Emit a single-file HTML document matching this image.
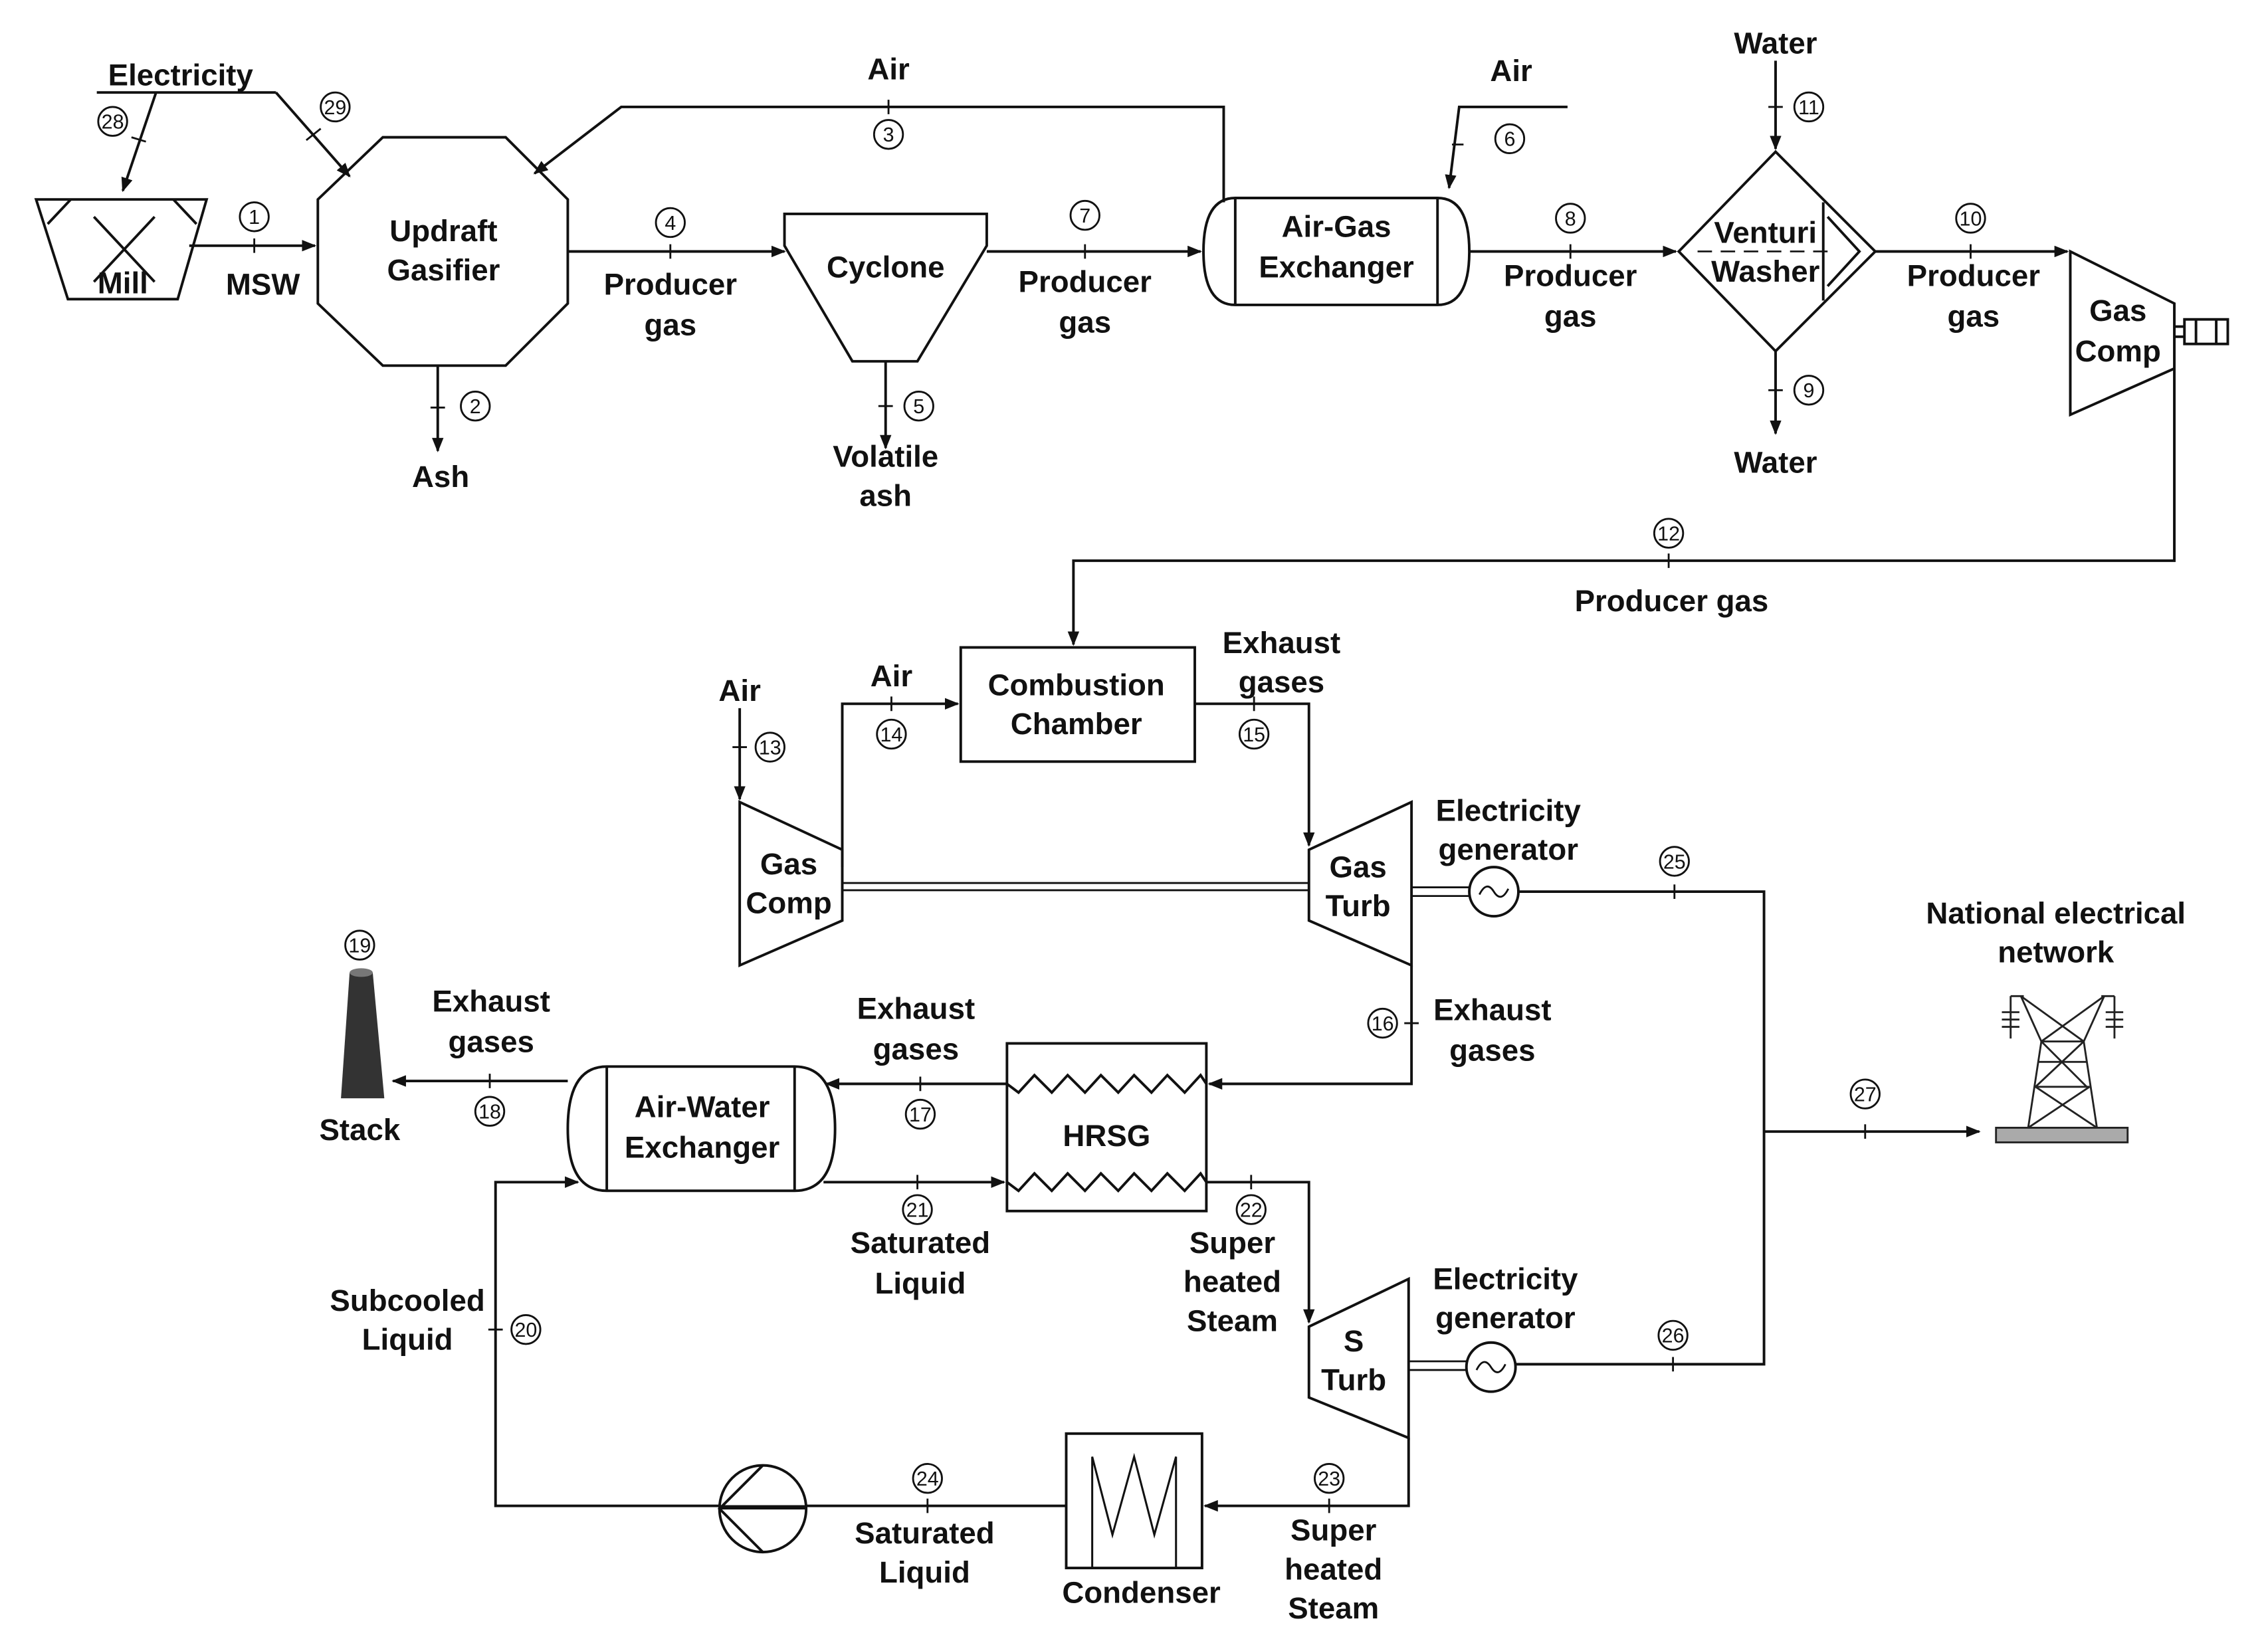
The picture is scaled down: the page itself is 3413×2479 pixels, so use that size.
<!DOCTYPE html>
<html><head><meta charset="utf-8"><style>
html,body{margin:0;padding:0;background:#fff;width:3413px;height:2479px;overflow:hidden}
svg{display:block}
text{font-family:"Liberation Sans",Arial,sans-serif;font-weight:bold;font-size:21px;fill:#111;text-anchor:middle}
.n{font-size:14px;font-weight:normal}
</style></head><body>
<svg width="3413" height="2479" viewBox="0 0 1551 1126" preserveAspectRatio="none" xmlns="http://www.w3.org/2000/svg">
<defs><marker id="a" markerWidth="10" markerHeight="8" refX="9" refY="4" orient="auto" markerUnits="userSpaceOnUse"><path d="M0,0 L10,4 L0,8z" fill="#111"/></marker>
<symbol id="c" viewBox="-11 -11 22 22"><circle r="10" fill="#fff" stroke="#111" stroke-width="1.3"/></symbol></defs>
<g transform="scale(0.988)">
<g fill="none" stroke="#111" stroke-width="1.8">
<!-- mill -->
<path d="M25,138 L143,138 L123,207 L47,207Z"/><path d="M49,138 L33,155 M120,138 L136,155"/>
<path d="M65,150 L107,195 M107,150 L65,195"/>
<path d="M67,64 L191,64"/><path d="M108,64 L85,132" marker-end="url(#a)"/>
<path d="M191,64 L242,122" marker-end="url(#a)"/>
<path d="M131,170 L218,170" marker-end="url(#a)"/>
<!-- gasifier -->
<path d="M265,95 L350,95 L393,138 L393,210 L350,253 L265,253 L220,210 L220,138Z"/>
<path d="M303,253 L303,312" marker-end="url(#a)"/>
<path d="M847,140 L847,74 L430,74 L370,120" marker-end="url(#a)"/>
<path d="M393,174 L543,174" marker-end="url(#a)"/>
<!-- cyclone -->
<path d="M543,148 L683,148 L683,170 L635,250 L590,250 L543,170Z"/>
<path d="M613,250 L613,310" marker-end="url(#a)"/>
<path d="M683,174 L831,174" marker-end="url(#a)"/>
<!-- air-gas -->
<path d="M855,137 L995,137 Q1017,137 1017,174 Q1017,211 995,211 L855,211 Q833,211 833,174 Q833,137 855,137Z"/>
<path d="M855,137 L855,211 M995,137 L995,211"/>
<path d="M1085,74 L1010,74 L1003,130" marker-end="url(#a)"/>
<path d="M1017,174 L1160,174" marker-end="url(#a)"/>
<!-- venturi -->
<path d="M1229,105 L1298,174 L1229,243 L1162,174Z"/>
<path d="M1262,140 L1262,208 M1265,150 L1287,174 L1265,198"/>
<path d="M1175,174 L1270,174" stroke-dasharray="10,6" stroke-width="1.2"/>
<path d="M1229,42 L1229,103" marker-end="url(#a)"/>
<path d="M1229,243 L1229,300" marker-end="url(#a)"/>
<path d="M1298,174 L1431,174" marker-end="url(#a)"/>
<!-- gas comp top -->
<path d="M1433,174 L1505,210 L1505,255 L1433,287Z"/>
<path d="M1505,226 L1512,226 M1505,233 L1512,233"/><rect x="1512" y="221" width="30" height="17"/><path d="M1520,221 L1520,238 M1534,221 L1534,238"/>
<path d="M1505,255 L1505,388 L743,388 L743,446" marker-end="url(#a)"/>
<!-- combustion -->
<rect x="665" y="448" width="162" height="79"/>
<path d="M583,600 L583,487 L663,487" marker-end="url(#a)"/>
<path d="M512,490 L512,553" marker-end="url(#a)"/>
<path d="M512,555 L583,588 L583,637 L512,668Z"/>
<path d="M827,487 L906,487 L906,585" marker-end="url(#a)"/>
<path d="M906,588 L977,555 L977,668 L906,637Z"/>
<path d="M583,611 L906,611 M583,616 L906,616" stroke-width="1.3"/>
<path d="M977,614 L1017,614 M977,620 L1017,620" stroke-width="1.3"/>
<circle cx="1034" cy="617" r="17"/><path d="M1024,619 Q1029,609 1034,617 Q1039,625 1044,615" stroke-width="1.3"/>
<path d="M1051,617 L1221,617 L1221,944 L1049,944"/>
<path d="M1221,783 L1370,783" marker-end="url(#a)"/>
<!-- exhaust 16 -->
<path d="M977,668 L977,750 L837,750" marker-end="url(#a)"/>
<rect x="697" y="722" width="138" height="116"/>
<path d="M697,750 L705,756 L716,744 L728,756 L739,744 L751,756 L762,744 L774,756 L785,744 L797,756 L808,744 L820,756 L831,744 L835,750"/>
<path d="M697,818 L705,824 L716,812 L728,824 L739,812 L751,824 L762,812 L774,824 L785,812 L797,824 L808,812 L820,824 L831,812 L835,818"/>
<path d="M697,750 L572,750" marker-end="url(#a)"/>
<path d="M420,738 L550,738 Q578,738 578,781 Q578,824 550,824 L420,824 Q393,824 393,781 Q393,738 420,738Z"/>
<path d="M420,738 L420,824 M550,738 L550,824"/>
<path d="M393,748 L272,748" marker-end="url(#a)"/>
<path d="M570,818 L695,818" marker-end="url(#a)"/>
<path d="M835,818 L906,818 L906,915" marker-end="url(#a)"/>
<path d="M906,918 L975,885 L975,995 L906,967Z"/>
<path d="M975,942 L1015,942 M975,948 L1015,948" stroke-width="1.3"/>
<circle cx="1032" cy="946" r="17"/><path d="M1022,948 Q1027,938 1032,946 Q1037,954 1042,944" stroke-width="1.3"/>
<path d="M975,995 L975,1042 L834,1042" marker-end="url(#a)"/>
<rect x="738" y="992" width="94" height="93"/>
<path d="M756,1085 L756,1008 L770,1062 L785,1008 L799,1062 L814,1008 L814,1085" stroke-width="1.4"/>
<path d="M738,1042 L558,1042"/>
<circle cx="528" cy="1044" r="30"/><path d="M528,1014 L498,1044 L528,1074"/>
<path d="M498,1043 L558,1043" stroke-width="3"/>
<path d="M498,1042 L343,1042 L343,818 L400,818" marker-end="url(#a)"/>
<!-- ticks -->
<path d="M91,95 l10,3 M212,97 l10,-8 M176,165 l0,10 M298,282 l10,0 M615,69 l0,10 M464,169 l0,10 M608,281 l10,0 M751,169 l0,10 M1005,100 l8,0 M1087,169 l0,10 M1224,74 l10,0 M1224,270 l10,0 M1364,169 l0,10 M1155,383 l0,10 M617,482 l0,10 M507,517 l10,0 M868,482 l0,10 M1159,612 l0,10 M972,708 l10,0 M1291,778 l0,10 M637,745 l0,10 M339,743 l0,10 M635,813 l0,10 M866,813 l0,10 M338,920 l10,0 M1158,939 l0,10 M920,1037 l0,10 M642,1037 l0,10" stroke-width="1.3"/>
</g>
<!-- stack -->
<path d="M242,673 L258,673 L266,760 L236,760Z" fill="#333"/><ellipse cx="250" cy="673" rx="8" ry="3" fill="#777"/>
<!-- labels -->
<text x="125" y="59">Electricity</text><text x="85" y="203">Mill</text><text x="182" y="204">MSW</text>
<text x="307" y="167">Updraft</text><text x="307" y="194">Gasifier</text><text x="305" y="337">Ash</text>
<text x="615" y="55">Air</text><text x="464" y="204">Producer</text><text x="464" y="232">gas</text>
<text x="613" y="192">Cyclone</text><text x="613" y="323">Volatile</text><text x="613" y="350">ash</text>
<text x="751" y="202">Producer</text><text x="751" y="230">gas</text>
<text x="925" y="164">Air-Gas</text><text x="925" y="192">Exchanger</text>
<text x="1046" y="56">Air</text><text x="1087" y="198">Producer</text><text x="1087" y="226">gas</text>
<text x="1222" y="168">Venturi</text><text x="1222" y="195">Washer</text>
<text x="1229" y="37">Water</text><text x="1229" y="327">Water</text>
<text x="1366" y="198">Producer</text><text x="1366" y="226">gas</text>
<text x="1466" y="222">Gas</text><text x="1466" y="250">Comp</text>
<text x="1157" y="423">Producer gas</text>
<text x="745" y="481">Combustion</text><text x="745" y="508">Chamber</text>
<text x="617" y="475">Air</text><text x="512" y="485">Air</text>
<text x="887" y="452">Exhaust</text><text x="887" y="479">gases</text>
<text x="546" y="605">Gas</text><text x="546" y="632">Comp</text>
<text x="940" y="607">Gas</text><text x="940" y="634">Turb</text>
<text x="1044" y="568">Electricity</text><text x="1044" y="595">generator</text>
<text x="1423" y="639">National electrical</text><text x="1423" y="666">network</text>
<text x="1033" y="706">Exhaust</text><text x="1033" y="734">gases</text>
<text x="766" y="793">HRSG</text>
<text x="634" y="705">Exhaust</text><text x="634" y="733">gases</text>
<text x="486" y="773">Air-Water</text><text x="486" y="801">Exchanger</text>
<text x="340" y="700">Exhaust</text><text x="340" y="728">gases</text><text x="249" y="789">Stack</text>
<text x="637" y="867">Saturated</text><text x="637" y="895">Liquid</text>
<text x="853" y="867">Super</text><text x="853" y="894">heated</text><text x="853" y="921">Steam</text>
<text x="1042" y="892">Electricity</text><text x="1042" y="919">generator</text>
<text x="937" y="935">S</text><text x="937" y="962">Turb</text>
<text x="923" y="1066">Super</text><text x="923" y="1093">heated</text><text x="923" y="1120">Steam</text>
<text x="790" y="1109">Condenser</text>
<text x="640" y="1068">Saturated</text><text x="640" y="1095">Liquid</text>
<text x="282" y="907">Subcooled</text><text x="282" y="934">Liquid</text>
<g>
<use href="#c" x="67" y="73" width="22" height="22"/><text class="n" x="78" y="89">28</text>
<use href="#c" x="221" y="63" width="22" height="22"/><text class="n" x="232" y="79">29</text>
<use href="#c" x="165" y="139" width="22" height="22"/><text class="n" x="176" y="155">1</text>
<use href="#c" x="318" y="270" width="22" height="22"/><text class="n" x="329" y="286">2</text>
<use href="#c" x="604" y="82" width="22" height="22"/><text class="n" x="615" y="98">3</text>
<use href="#c" x="453" y="143" width="22" height="22"/><text class="n" x="464" y="159">4</text>
<use href="#c" x="625" y="270" width="22" height="22"/><text class="n" x="636" y="286">5</text>
<use href="#c" x="1034" y="85" width="22" height="22"/><text class="n" x="1045" y="101">6</text>
<use href="#c" x="740" y="138" width="22" height="22"/><text class="n" x="751" y="154">7</text>
<use href="#c" x="1076" y="140" width="22" height="22"/><text class="n" x="1087" y="156">8</text>
<use href="#c" x="1241" y="259" width="22" height="22"/><text class="n" x="1252" y="275">9</text>
<use href="#c" x="1353" y="140" width="22" height="22"/><text class="n" x="1364" y="156">10</text>
<use href="#c" x="1241" y="63" width="22" height="22"/><text class="n" x="1252" y="79">11</text>
<use href="#c" x="1144" y="358" width="22" height="22"/><text class="n" x="1155" y="374">12</text>
<use href="#c" x="522" y="506" width="22" height="22"/><text class="n" x="533" y="522">13</text>
<use href="#c" x="606" y="497" width="22" height="22"/><text class="n" x="617" y="513">14</text>
<use href="#c" x="857" y="497" width="22" height="22"/><text class="n" x="868" y="513">15</text>
<use href="#c" x="946" y="697" width="22" height="22"/><text class="n" x="957" y="713">16</text>
<use href="#c" x="626" y="760" width="22" height="22"/><text class="n" x="637" y="776">17</text>
<use href="#c" x="328" y="758" width="22" height="22"/><text class="n" x="339" y="774">18</text>
<use href="#c" x="238" y="643" width="22" height="22"/><text class="n" x="249" y="659">19</text>
<use href="#c" x="353" y="909" width="22" height="22"/><text class="n" x="364" y="925">20</text>
<use href="#c" x="624" y="826" width="22" height="22"/><text class="n" x="635" y="842">21</text>
<use href="#c" x="855" y="826" width="22" height="22"/><text class="n" x="866" y="842">22</text>
<use href="#c" x="909" y="1012" width="22" height="22"/><text class="n" x="920" y="1028">23</text>
<use href="#c" x="631" y="1012" width="22" height="22"/><text class="n" x="642" y="1028">24</text>
<use href="#c" x="1148" y="585" width="22" height="22"/><text class="n" x="1159" y="601">25</text>
<use href="#c" x="1147" y="913" width="22" height="22"/><text class="n" x="1158" y="929">26</text>
<use href="#c" x="1280" y="746" width="22" height="22"/><text class="n" x="1291" y="762">27</text>
</g>
</g>
<!-- tower (final coords) -->
<g fill="none" stroke="#222" stroke-width="1.3">
<path d="M1375,681 L1384,681 M1437,681 L1446,681 M1375,681 L1375,710 M1446,681 L1446,710"/>
<path d="M1369,692 L1381,692 M1369,697 L1381,697 M1369,702 L1381,702 M1440,692 L1452,692 M1440,697 L1452,697 M1440,702 L1452,702"/>
<path d="M1382,681 L1396,712 L1387,771 M1439,681 L1425,712 L1434,771"/>
<path d="M1382,681 L1425,712 M1439,681 L1396,712"/>
<path d="M1396,712 L1425,712 M1394,726 L1427,726 M1392,743 L1429,743"/>
<path d="M1396,712 L1427,743 M1425,712 L1392,743 M1392,743 L1434,771 M1429,743 L1387,771"/>
</g>
<rect x="1365" y="771" width="90" height="10" fill="#aaa" stroke="#222" stroke-width="1.3"/>
</svg>
</body></html>
